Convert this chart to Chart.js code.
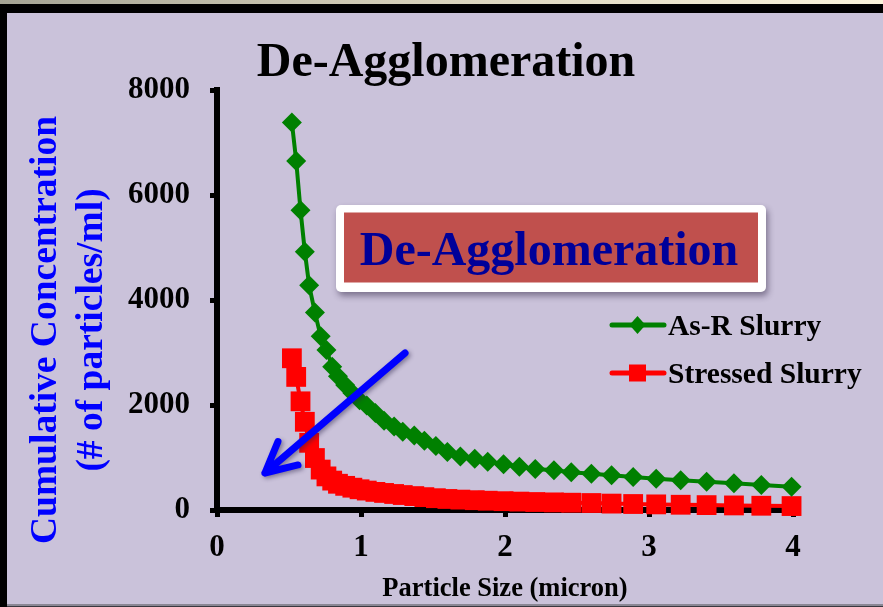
<!DOCTYPE html>
<html>
<head>
<meta charset="utf-8">
<title>De-Agglomeration</title>
<script src="https://cdn.jsdelivr.net/npm/chart.js@4/dist/chart.umd.min.js"></script>
<style>
  html, body { margin: 0; padding: 0; background: #CAC2DA; }
  canvas { display: block; }
</style>
</head>
<body>
<canvas id="chart" width="883" height="607"></canvas>
<script>
// Particle size bins (micron)
const particleSize = [0.52, 0.55, 0.58, 0.61, 0.64, 0.68, 0.72, 0.76, 0.80, 0.84,
                      0.89, 0.94, 0.99, 1.04, 1.10, 1.16, 1.23, 1.29, 1.37, 1.44,
                      1.52, 1.60, 1.69, 1.79, 1.88, 1.99, 2.10, 2.21, 2.34, 2.46,
                      2.60, 2.74, 2.89, 3.05, 3.22, 3.40, 3.59, 3.78, 3.99];

// Cumulative concentration (# of particles/ml), as-received slurry
const asReceived = [7380, 6650, 5710, 4920, 4280, 3760, 3310, 3050, 2730, 2550,
                    2380, 2230, 2090, 1990, 1850, 1700, 1590, 1490, 1420, 1320,
                    1220, 1105, 1020, 975, 920, 870, 825, 780, 755, 720,
                    690, 660, 630, 597, 566, 540, 508, 476, 445];

// Cumulative concentration (# of particles/ml), stressed slurry
const stressed = [2890, 2535, 2070, 1680, 1280, 990, 770, 640, 560, 500,
                  460, 425, 395, 370, 345, 325, 305, 285, 265, 245,
                  225, 210, 198, 187, 177, 168, 160, 152, 145, 139,
                  133, 122, 114, 107, 100, 93, 87, 81, 75];

const seriesNames = ['As-R Slurry', 'Stressed Slurry'];
const xTicks = [0, 1, 2, 3, 4];
const yTicks = [0, 2000, 4000, 6000, 8000];

// Callout arrow (data units): from tail to tip
const arrowTail = [1.306, 2990];
const arrowTip = [0.333, 705];

const SERIF = '"Liberation Serif", "Times New Roman", Times, serif';
const GREEN = '#008000';
const RED = '#FF0000';

function toPoints(xs, ys) {
  return xs.map((x, i) => ({ x: x, y: ys[i] }));
}

const decor = {
  id: 'slideDecor',
  beforeDraw(chart) {
    const ctx = chart.ctx;
    ctx.save();
    ctx.fillStyle = '#CAC2DA';
    ctx.fillRect(0, 0, chart.width, chart.height);
    ctx.restore();
  },
  afterDatasetsDraw(chart) {
    const ctx = chart.ctx;
    const xs = chart.scales.x, ys = chart.scales.y;

    // Blue callout arrow
    const x1 = xs.getPixelForValue(arrowTail[0]), y1 = ys.getPixelForValue(arrowTail[1]);
    const x2 = xs.getPixelForValue(arrowTip[0]), y2 = ys.getPixelForValue(arrowTip[1]);
    const back = Math.atan2(y1 - y2, x1 - x2);
    const armLen = 34, spread = 0.47;
    ctx.save();
    ctx.shadowColor = 'rgba(40, 30, 70, 0.45)';
    ctx.shadowBlur = 4;
    ctx.shadowOffsetX = 2;
    ctx.shadowOffsetY = 2;
    ctx.strokeStyle = '#0000FF';
    ctx.lineWidth = 7;
    ctx.lineCap = 'round';
    ctx.lineJoin = 'round';
    ctx.beginPath();
    ctx.moveTo(x1, y1);
    ctx.lineTo(x2, y2);
    ctx.moveTo(x2 + armLen * Math.cos(back - spread), y2 + armLen * Math.sin(back - spread));
    ctx.lineTo(x2, y2);
    ctx.lineTo(x2 + armLen * Math.cos(back + spread), y2 + armLen * Math.sin(back + spread));
    ctx.stroke();
    ctx.restore();

    // Caption box
    const bx = 336, by = 205, bw = 430, bh = 87;
    ctx.save();
    ctx.shadowColor = 'rgba(30, 20, 50, 0.45)';
    ctx.shadowBlur = 6;
    ctx.shadowOffsetX = 2;
    ctx.shadowOffsetY = 4;
    ctx.fillStyle = '#FFFFFF';
    ctx.beginPath();
    ctx.roundRect(bx, by, bw, bh, 5);
    ctx.fill();
    ctx.restore();
    ctx.save();
    ctx.fillStyle = '#C0504D';
    ctx.fillRect(bx + 8, by + 7.5, bw - 16, bh - 17);
    ctx.fillStyle = '#000099';
    ctx.font = 'bold 48px ' + SERIF;
    ctx.textAlign = 'center';
    ctx.textBaseline = 'alphabetic';
    ctx.fillText('De-Agglomeration', bx + bw / 2 - 2, by + 60);
    ctx.restore();

    // Legend
    const items = [
      { name: seriesNames[0], color: GREEN, style: 'diamond', y: 325 },
      { name: seriesNames[1], color: RED, style: 'square', y: 373 }
    ];
    ctx.save();
    items.forEach(it => {
      ctx.strokeStyle = it.color;
      ctx.fillStyle = it.color;
      ctx.lineWidth = 5;
      ctx.lineCap = 'round';
      ctx.beginPath();
      ctx.moveTo(612, it.y);
      ctx.lineTo(664, it.y);
      ctx.stroke();
      ctx.beginPath();
      if (it.style === 'diamond') {
        ctx.moveTo(637.5, it.y - 9);
        ctx.lineTo(645.5, it.y);
        ctx.lineTo(637.5, it.y + 9);
        ctx.lineTo(629.5, it.y);
        ctx.closePath();
      } else {
        ctx.rect(629, it.y - 8.5, 17, 17);
      }
      ctx.fill();
      ctx.fillStyle = '#000000';
      ctx.font = 'bold 29.5px ' + SERIF;
      ctx.textAlign = 'left';
      ctx.textBaseline = 'alphabetic';
      ctx.fillText(it.name, 668, it.y + 9.5);
    });
    ctx.restore();
  },
  afterDraw(chart) {
    const ctx = chart.ctx;
    const W = chart.width, H = chart.height;

    // Chart title
    ctx.save();
    ctx.fillStyle = '#000000';
    ctx.font = 'bold 48px ' + SERIF;
    ctx.textAlign = 'center';
    ctx.textBaseline = 'alphabetic';
    ctx.fillText('De-Agglomeration', 446, 76);
    ctx.restore();

    // Vertical axis title, two lines
    ctx.save();
    ctx.fillStyle = '#0000FF';
    ctx.font = 'bold 37.5px ' + SERIF;
    ctx.textAlign = 'center';
    ctx.textBaseline = 'middle';
    ctx.translate(46, 330);
    ctx.rotate(-Math.PI / 2);
    ctx.fillText('Cumulative Concentration', 0, 0);
    ctx.fillText('(# of particles/ml)', 0, 46);
    ctx.restore();

    // Slide frame
    ctx.save();
    const g = ctx.createLinearGradient(0, 0, W, 0);
    g.addColorStop(0, '#A5A494');
    g.addColorStop(0.5, '#D9D3BC');
    g.addColorStop(1, '#FBF4DC');
    ctx.fillStyle = g;
    ctx.fillRect(0, 0, W, 4);
    ctx.fillStyle = '#000000';
    ctx.fillRect(0, 4, W, 9);
    ctx.fillRect(0, 4, 7, H - 4);
    ctx.fillStyle = '#8A8794';
    ctx.fillRect(7, H - 3, W - 7, 2);
    ctx.fillStyle = '#3A3840';
    ctx.fillRect(7, H - 1, W - 7, 1);
    ctx.restore();
  }
};

new Chart(document.getElementById('chart'), {
  type: 'line',
  data: {
    datasets: [
      {
        label: seriesNames[0],
        data: toPoints(particleSize, asReceived),
        borderColor: GREEN,
        backgroundColor: GREEN,
        borderWidth: 4,
        pointStyle: 'rectRot',
        pointRadius: 10,
        pointBorderWidth: 0,
        pointBackgroundColor: GREEN,
        tension: 0,
        clip: false
      },
      {
        label: seriesNames[1],
        data: toPoints(particleSize, stressed),
        borderColor: RED,
        backgroundColor: RED,
        borderWidth: 4,
        pointStyle: 'rect',
        pointRadius: 14,
        pointBorderWidth: 0,
        pointBackgroundColor: RED,
        tension: 0,
        clip: false
      }
    ]
  },
  options: {
    responsive: false,
    animation: false,
    devicePixelRatio: 1,
    layout: { padding: { left: 0, right: 90, top: 90, bottom: 0 } },
    plugins: {
      legend: { display: false },
      tooltip: { enabled: false },
      title: { display: false }
    },
    scales: {
      x: {
        type: 'linear',
        min: 0,
        max: 4,
        afterBuildTicks: sc => { sc.ticks = xTicks.map(v => ({ value: v })); },
        afterFit: sc => { sc.height = 97; },
        border: { display: true, width: 6, color: '#000000' },
        grid: { drawOnChartArea: false, drawTicks: true, tickLength: 7, tickWidth: 5, tickColor: '#000000' },
        ticks: {
          color: '#000000',
          padding: 12,
          maxRotation: 0,
          font: { family: SERIF, size: 31, weight: 'bold' },
          callback: v => String(v)
        },
        title: {
          display: true,
          text: 'Particle Size (micron)',
          color: '#000000',
          font: { family: SERIF, size: 26.5, weight: 'bold', lineHeight: 1.2 },
          padding: { top: 0, bottom: 2 }
        }
      },
      y: {
        type: 'linear',
        min: 0,
        max: 8000,
        afterBuildTicks: sc => { sc.ticks = yTicks.map(v => ({ value: v })); },
        afterFit: sc => { sc.width = 217; },
        border: { display: true, width: 6, color: '#000000' },
        grid: { drawOnChartArea: false, drawTicks: true, tickLength: 7, tickWidth: 5, tickColor: '#000000' },
        ticks: {
          color: '#000000',
          padding: 20,
          font: { family: SERIF, size: 31, weight: 'bold' },
          callback: v => String(v)
        }
      }
    }
  },
  plugins: [decor]
});
</script>
</body>
</html>
